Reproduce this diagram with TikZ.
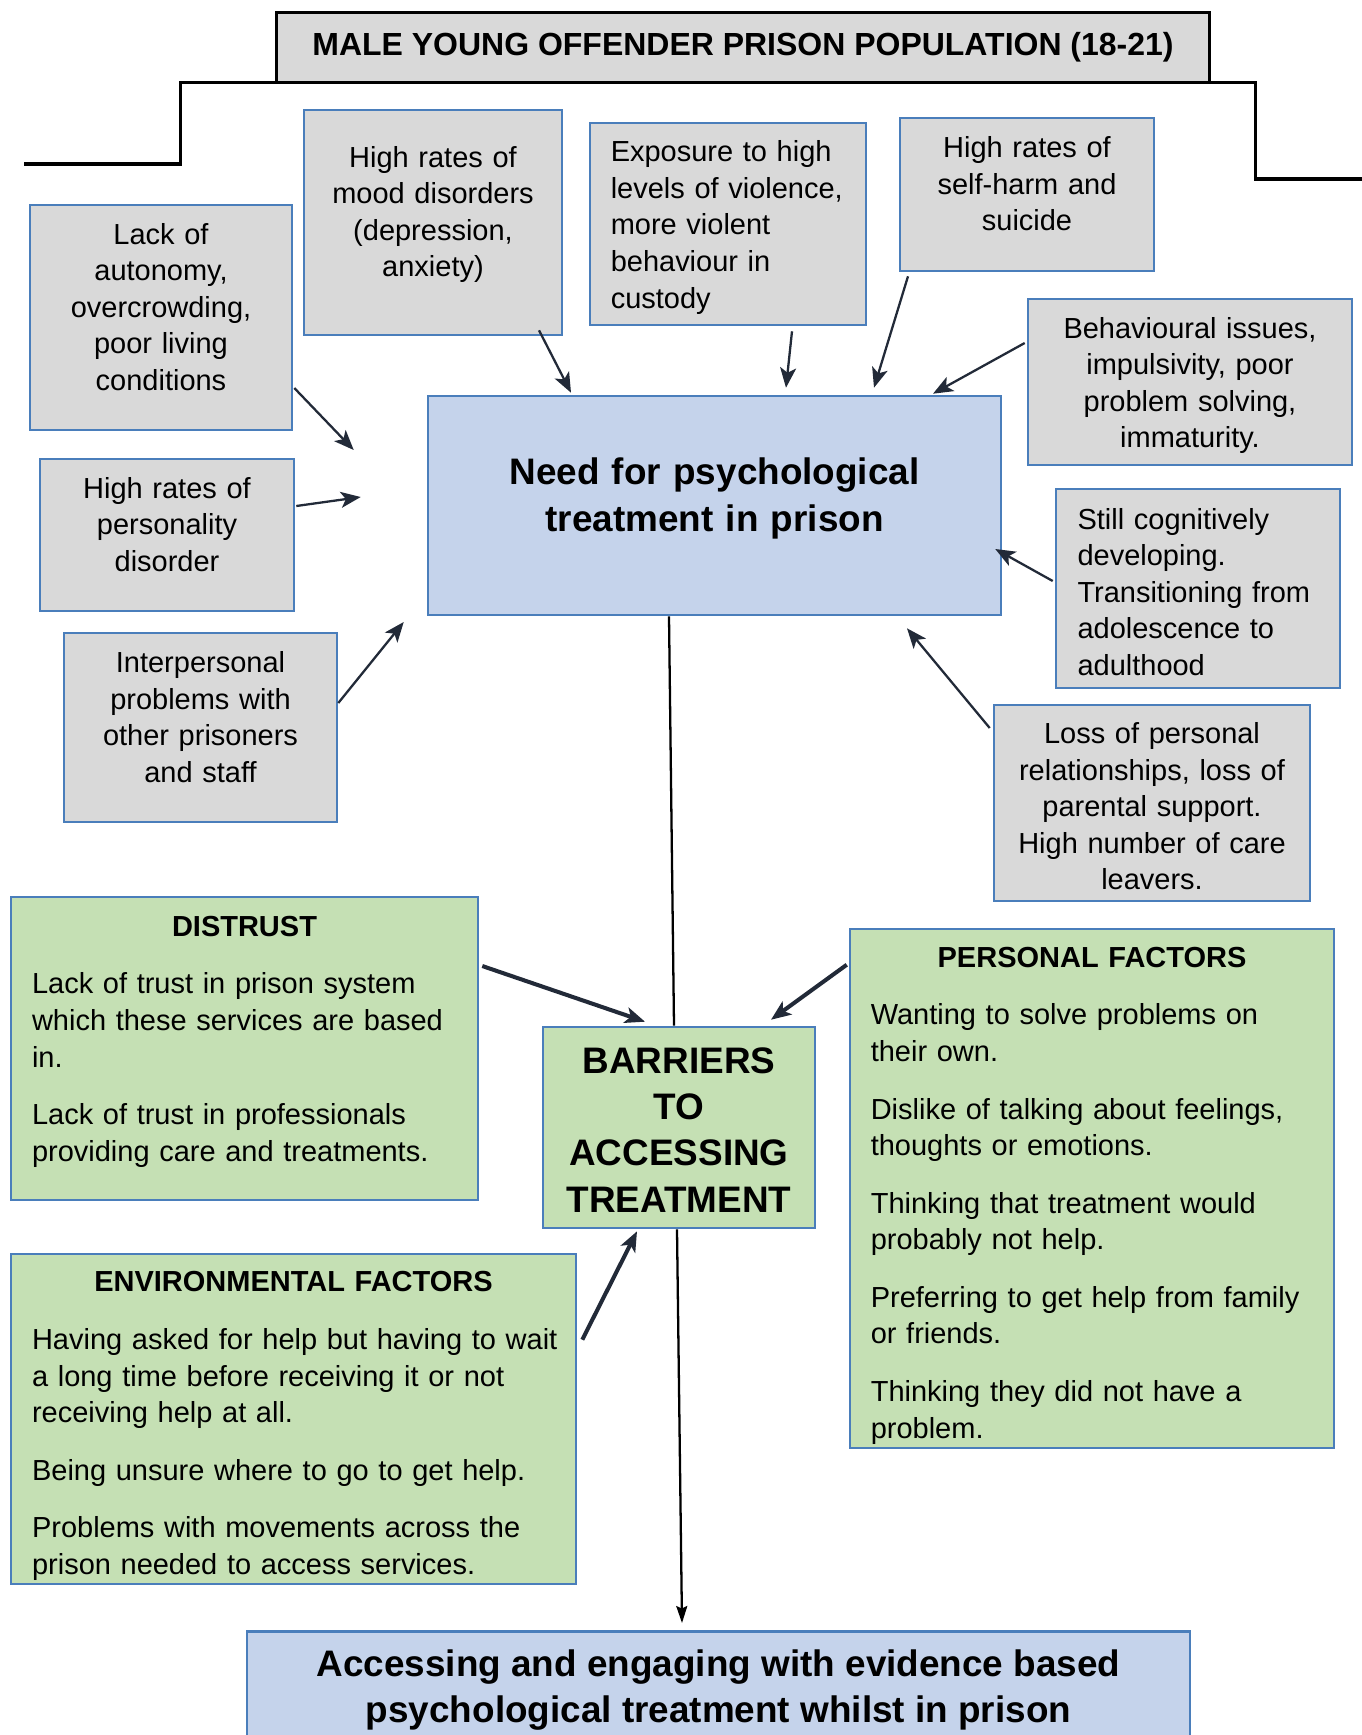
\documentclass[tikz,border=0pt]{standalone}
\usepackage{fontspec}
\setmainfont{Liberation Sans}
\usetikzlibrary{arrows.meta}
\definecolor{boxgrey}{HTML}{D9D9D9}
\definecolor{boxblue}{HTML}{4A7EBB}
\definecolor{needblue}{HTML}{C5D3EB}
\definecolor{barrgreen}{HTML}{C5E0B4}
\definecolor{arrowc}{HTML}{222A38}
\tikzset{
	boxbase/.style = {rectangle, draw=boxblue, fill=boxgrey, line width=1.5pt,
		inner sep=0pt, align=center, font=\fontsize{16.5}{20.8}\selectfont},
	sink/.style = {execute at begin node={\rule{0pt}{#1}}},% texte un peu plus bas
	lift/.style = {execute at end node={\rule[-#1]{0pt}{#1}}},% texte un peu plus haut
	factor/.style = {boxbase, sink=0.96em},% boite grise
	factorl/.style = {factor, align=left},% boite grise, texte a gauche
	need/.style = {factor, fill=needblue, font=\bfseries\fontsize{21}{27}\selectfont},% boite bleue
	hub/.style = {factor, fill=barrgreen, font=\bfseries\fontsize{21}{26.4}\selectfont},% boite verte centrale
	barrier/.style = {factor, fill=barrgreen, align=left},% boite verte
	outcome/.style = {boxbase, fill=needblue, font=\bfseries\fontsize{21}{26.4}\selectfont,
		inner ysep=0.36cm, anchor=north},
	heading/.style = {rectangle, draw=black, fill=boxgrey, line width=1.5pt,
		font=\bfseries\fontsize{18.2}{22}\selectfont},
	boxsize/.style n args = {3}{minimum width=#1cm, minimum height=#2cm, text width=#3cm},
	stepline/.style = {draw=black, line width=1.8pt},
	arr/.style = {->, draw=arrowc, line width=1.3pt},
	arrthick/.style = {arr, line width=2.3pt},
	link/.style = {draw=black, line width=1.3pt},
	linkarr/.style = {link, -{Stealth[length=0.34cm, width=0.22cm, inset=0.05cm]}}
}
\begin{document}
\begin{tikzpicture}[x=0.02cm, y=-0.02cm,
	>={Stealth[length=0.4cm, width=0.32cm, inset=0.1cm]}]
\path[use as bounding box, clip] (0,0) rectangle (1362,1735);

% titre et ligne en escalier
\draw [stepline] (24,164) -| (180.5,82.7) -- (743,82.7) -| (1255.4,179) -- (1362,179);
\node [heading, minimum width=18.66cm, minimum height=1.4cm] (title) at (743,47.7)
	{MALE YOUNG OFFENDER PRISON POPULATION (18-21)};

% facteurs
\node [factor, boxsize={5.16}{4.5}{4.86}, lift=16.5pt] (mood) at (433,222.5)
	{High rates of\\mood disorders\\(depression,\\anxiety)};
\node [factorl, boxsize={5.52}{4.04}{4.69}] (violence) at (728,224)
	{Exposure to high\\levels of violence,\\more violent\\behaviour in\\custody};
\node [factor, boxsize={5.08}{3.06}{4.78}, lift=16pt] (selfharm) at (1027,194.5)
	{High rates of\\self-harm and\\suicide};
\node [factor, boxsize={5.24}{4.5}{4.94}, lift=16pt] (autonomy) at (161,317.5)
	{Lack of\\autonomy,\\overcrowding,\\poor living\\conditions};
\node [factor, boxsize={5.08}{3.04}{4.78}, lift=16pt] (personality) at (167,535)
	{High rates of\\personality\\disorder};
\node [factor, boxsize={5.46}{3.78}{5.16}, lift=16pt] (interpersonal) at (200.5,727.5)
	{Interpersonal\\problems with\\other prisoners\\and staff};
\node [factor, boxsize={6.48}{3.32}{6.18}] (behaviour) at (1190,382)
	{Behavioural issues,\\impulsivity, poor\\problem solving,\\immaturity.};
\node [factorl, boxsize={5.68}{3.98}{4.82}] (cognitive) at (1198,588.5)
	{Still cognitively\\developing.\\Transitioning from\\adolescence to\\adulthood};
\node [factor, boxsize={6.32}{3.92}{6.02}] (loss) at (1152,803)
	{Loss of personal\\relationships, loss of\\parental support.\\High number of care\\leavers.};

\node [need, boxsize={11.46}{4.38}{11}, lift=17.5pt] (need) at (714.5,505.5)
	{Need for psychological\\treatment in prison};

% barrieres
\node [barrier, boxsize={9.34}{6.06}{8.5}, lift=15.5pt] (distrust) at (244.5,1048.5)
	{\hfill\textbf{DISTRUST}\hfill\null\\[12pt]
	Lack of trust in prison system\\which these services are based\\in.\\[12pt]
	Lack of trust in professionals\\providing care and treatments.};
\node [hub, boxsize={5.44}{4.02}{5.14}, lift=3pt] (barriers) at (679,1127.5)
	{BARRIERS\\TO\\ACCESSING\\TREATMENT};
\node [barrier, boxsize={9.68}{10.38}{8.85}, sink=19.5pt] (personal) at (1092,1188.5)
	{\hfill\textbf{PERSONAL FACTORS}\hfill\null\\[12pt]
	Wanting to solve problems on\\their own.\\[12pt]
	Dislike of talking about feelings,\\thoughts or emotions.\\[12pt]
	Thinking that treatment would\\probably not help.\\[12pt]
	Preferring to get help from family\\or friends.\\[12pt]
	Thinking they did not have a\\problem.};
\node [barrier, boxsize={11.3}{6.6}{10.46}, sink=19.5pt] (environ) at (293.5,1419)
	{\hfill\textbf{ENVIRONMENTAL FACTORS}\hfill\null\\[12pt]
	\mbox{Having asked for help but having to wait}\\a long time before receiving it or not\\receiving help at all.\\[12pt]
	Being unsure where to go to get help.\\[12pt]
	Problems with movements across the\\prison needed to access services.};

\node [outcome, minimum width=18.86cm] (result) at (718.5,1630)
	{Accessing and engaging with evidence based\\psychological treatment whilst in prison};

% fleches
\draw [arr] ([shift={(106,-6)}]mood.south) -- ([shift={(-143.5,-2)}]need.north);
\draw [arr] ([shift={(64,5)}]violence.south) -- ([shift={(71.5,-7)}]need.north);
\draw [arr] ([shift={(-119,4)}]selfharm.south) -- ([shift={(159.5,-7)}]need.north);
\draw [arr] ([shift={(-2,-39)}]behaviour.west) -- ([shift={(218.5,-1)}]need.north);
\draw [arr] ([shift={(1,70.5)}]autonomy.east) -- ([shift={(-73,-55.5)}]need.west);
\draw [arr] ([shift={(1,-29)}]personality.east) -- ([shift={(-66,-8.5)}]need.west);
\draw [arr] ([shift={(0,-24.5)}]interpersonal.east) -- ([shift={(-23,116.5)}]need.west);
\draw [arr] ([shift={(-2,-7.5)}]cognitive.west) -- ([shift={(-7,43.5)}]need.east);
\draw [arr] ([shift={(-3,-75)}]loss.west) -- ([shift={(192.5,12)}]need.south);

\draw [link] ([shift={(-45.5,0)}]need.south) -- ([shift={(-5,0)}]barriers.north);
\draw [arrthick] ([shift={(3,-82.5)}]distrust.east) -- ([shift={(-34,-4)}]barriers.north);
\draw [arrthick] ([shift={(-2,37)}]personal.north west) -- ([shift={(92,-6)}]barriers.north);
\draw [arrthick] ([shift={(5,87)}]environ.north east) -- ([shift={(-42,2)}]barriers.south);
\draw [linkarr] ([shift={(-2,0)}]barriers.south) -- ([shift={(-36.5,-7)}]result.north);
\end{tikzpicture}
\end{document}
